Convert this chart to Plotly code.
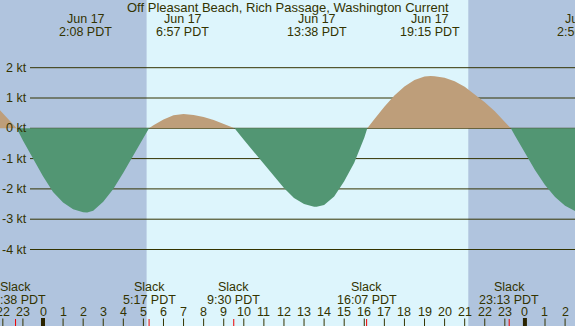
import numpy as np
import plotly.graph_objects as go

W, H = 575, 326

# ---- data (hours relative to Jun 17 00:00 PDT, speed in knots) ----
times = [-2.5, -2.14, -2.0, -1.5, -1.31, -1.0, -0.5, 0.0, 0.5, 1.0, 1.5, 2.0, 2.2,
         2.5, 3.0, 3.5, 4.0, 4.5, 5.0, 5.28, 5.5, 6.0, 6.5, 7.0, 7.5, 8.0, 8.5,
         9.0, 9.54, 10.0, 10.5, 11.0, 11.5, 12.0, 12.5, 13.0, 13.5, 13.63, 14.0,
         14.5, 15.0, 15.5, 16.0, 16.15, 16.5, 17.0, 17.5, 18.0, 18.5, 19.0, 19.3,
         19.5, 20.0, 20.5, 21.0, 21.5, 22.0, 22.5, 23.0, 23.3, 23.5, 24.0, 24.5,
         25.0, 25.5, 26.0, 26.5, 27.0]
speed = [0.85, 0.60, 0.50, 0.14, 0.0, -0.40, -1.00, -1.58, -2.10, -2.45, -2.67, -2.77, -2.78,
         -2.72, -2.42, -2.00, -1.47, -0.91, -0.33, 0.0, 0.10, 0.29, 0.43, 0.47, 0.44, 0.375, 0.27,
         0.14, 0.0, -0.38, -0.78, -1.20, -1.60, -1.97, -2.30, -2.50, -2.59, -2.59, -2.53,
         -2.25, -1.75, -1.14, -0.31, 0.0, 0.30, 0.71, 1.08, 1.38, 1.59, 1.71, 1.73,
         1.72, 1.67, 1.55, 1.37, 1.13, 0.86, 0.56, 0.23, 0.0, -0.24, -0.83, -1.38,
         -1.87, -2.27, -2.56, -2.73, -2.78]

max_times = [2.133, 6.95, 13.633, 19.25, 26.93]
max_dates = ["Jun 17", "Jun 17", "Jun 17", "Jun 17", "Jun 18"]
max_labels = ["2:08 PDT", "6:57 PDT", "13:38 PDT", "19:15 PDT", "2:56 PDT"]

slack_times = [-1.367, 5.283, 9.5, 16.117, 23.217]
slack_labels = ["22:38 PDT", "5:17 PDT", "9:30 PDT", "16:07 PDT", "23:13 PDT"]

hour_ticks = list(range(-2, 27))
hour_text = [str(h % 24) for h in hour_ticks]
midnights = [0, 24]

kt_levels = [2, 1, 0, -1, -2, -3, -4]
kt_text = ["2 kt", "1 kt", "0 kt", "-1 kt", "-2 kt", "-3 kt", "-4 kt"]

sunrise, sunset = 5.16, 21.18
title = "Off Pleasant Beach, Rich Passage, Washington Current"

# ---- style ----
NIGHT = "#b0c4de"
DAY = "#ddf5fc"
EBB = "#529673"
FLOOD = "#be9e7a"
INK = "#333300"
FONT = "Liberation Sans, Arial, sans-serif"
FS = 12.5

x_range = [-43 / 20.08, (W - 43) / 20.08]
y_range = [-(H - 128.3) / 30.3, 128.3 / 30.3]

def py(ypx):
    return 1 - ypx / H

def xpaper(h):
    # position along the x axis, expressed as a fraction of the plot width
    return (h - x_range[0]) / (x_range[1] - x_range[0])

t = np.array(times)
v = np.array(speed)
fig = go.Figure()
fig.add_trace(go.Scatter(x=t, y=np.clip(v, 0, None), mode="lines", line=dict(width=0),
                         fill="tozeroy", fillcolor=FLOOD, hoverinfo="skip"))
fig.add_trace(go.Scatter(x=t, y=np.clip(v, None, 0), mode="lines", line=dict(width=0),
                         fill="tozeroy", fillcolor=EBB, hoverinfo="skip"))

shapes = [dict(type="rect", xref="x", yref="paper", x0=sunrise, x1=sunset, y0=0, y1=1,
               fillcolor=DAY, line=dict(width=0), layer="below")]
for k in kt_levels:
    shapes.append(dict(type="line", xref="paper", yref="y", x0=30 / W, x1=1, y0=k, y1=k,
                       line=dict(color=INK, width=1), layer="below"))
for h in hour_ticks:
    shapes.append(dict(type="line", xref="x", yref="paper", x0=h, x1=h, y0=0, y1=py(318.5),
                       line=dict(color=INK, width=1)))
for h in midnights:
    shapes.append(dict(type="line", xref="x", yref="paper", x0=h, x1=h, y0=0, y1=py(318),
                       line=dict(color="#2b2400", width=4)))
for s in slack_times:
    shapes.append(dict(type="line", xref="x", yref="paper", x0=s, x1=s, y0=0, y1=py(319),
                       line=dict(color="#ee0000", width=1)))

ann = []
def txt(x, y, s, xanchor="center", size=FS):
    ann.append(dict(x=x, y=y, xref="paper", yref="paper", text=s, showarrow=False,
                    xanchor=xanchor, yanchor="middle",
                    font=dict(family=FONT, size=size, color=INK)))

txt(0.5, py(7.5), title, size=13)
for tm, d, lab in zip(max_times, max_dates, max_labels):
    txt(xpaper(tm), py(19.5), d)
    txt(xpaper(tm), py(32), lab)
for s, lab in zip(slack_times, slack_labels):
    txt(xpaper(s), py(287), "Slack")
    txt(xpaper(s), py(299.5), lab)
for h, lab in zip(hour_ticks, hour_text):
    txt(xpaper(h), py(311.5), lab)
for k, lab in zip(kt_levels, kt_text):
    ann.append(dict(x=28.5 / W, y=k, xref="paper", yref="y", text=lab, showarrow=False,
                    xanchor="right", yanchor="middle",
                    font=dict(family=FONT, size=FS, color=INK)))

fig.update_layout(
    width=W, height=H, margin=dict(l=0, r=0, t=0, b=0),
    paper_bgcolor=NIGHT, plot_bgcolor=NIGHT, showlegend=False,
    xaxis=dict(range=x_range, visible=False, fixedrange=True),
    yaxis=dict(range=y_range, visible=False, fixedrange=True),
    shapes=shapes, annotations=ann,
)
fig.write_html("out.html", config={"displayModeBar": False, "staticPlot": True})
